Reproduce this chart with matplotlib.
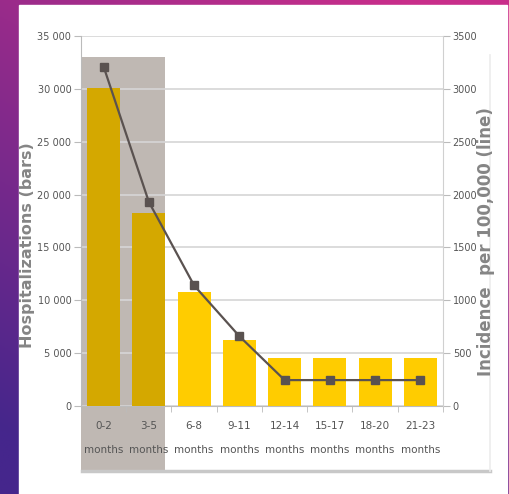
"""Hospitalizations (bars) and incidence per 100,000 (line) by age band."""

import numpy as np
import matplotlib

matplotlib.use("Agg")
import matplotlib.pyplot as plt  # noqa: E402
from matplotlib.patches import Rectangle  # noqa: E402
from matplotlib.lines import Line2D  # noqa: E402

age_bands = ["0-2", "3-5", "6-8", "9-11", "12-14", "15-17", "18-20", "21-23"]
hospitalizations = [30100, 18300, 10800, 6200, 4500, 4500, 4500, 4500]
incidence = [3210, 1930, 1140, 660, 245, 245, 245, 245]
left_ticks = [0, 5000, 10000, 15000, 20000, 25000, 30000, 35000]
right_ticks = [0, 500, 1000, 1500, 2000, 2500, 3000, 3500]
highlighted = 2          # first two age bands sit on the grey band

W, H = 510, 494
fig = plt.figure(figsize=(W / 100, H / 100), dpi=100)

# purple backdrop
bg = fig.add_axes([0, 0, 1, 1], zorder=-10)
bg.set_axis_off()
yy, xx = np.mgrid[0:1:200j, 0:1:200j]
t = np.clip(0.75 * yy + 0.45 * xx - 0.1, 0, 1)
c0 = np.array([0x45, 0x26, 0x8c]) / 255
c1 = np.array([0xc8, 0x2e, 0x8a]) / 255
grad = c0[None, None, :] * (1 - t[..., None]) + c1[None, None, :] * t[..., None]
bg.imshow(grad, extent=[0, 1, 0, 1], origin="lower", aspect="auto")
bg.set_xlim(0, 1)
bg.set_ylim(0, 1)
bg.add_patch(Rectangle((19 / W, 0), 488 / W, 1 - 5 / H, color="white"))

# frame shadow round the chart
fig.add_artist(Line2D([82 / W, 490 / W], [1 - 471 / H] * 2, color="#c8c8c8", lw=2.5))
fig.add_artist(Line2D([490 / W] * 2, [1 - 471 / H, 1 - 55 / H], color="#ececec", lw=1.2))

ax = fig.add_axes([81 / W, 1 - 406 / H, 362 / W, 370 / H])
x = np.arange(len(age_bands))
colors = ["#d4a800" if i < highlighted else "#ffcc00" for i in x]
ax.bar(x, hospitalizations, width=0.73, color=colors, zorder=3)
ax.set_xlim(-0.5, len(age_bands) - 0.5)
ax.set_ylim(0, 35000)
ax.set_yticks(left_ticks)
ax.set_yticklabels([f"{v:,}".replace(",", " ") for v in left_ticks])
ax.yaxis.grid(True, color="#d6d6d6", lw=1.2)
ax.set_axisbelow(True)

ax.set_xticks(x)
ax.set_xticklabels([f"{b}\nmonths" for b in age_bands], linespacing=2.7)
ax.set_xticks(np.arange(len(age_bands) + 1) - 0.5, minor=True)
ax.tick_params(axis="x", which="major", length=0, pad=11, labelsize=7.5,
               labelcolor="#555555")
ax.tick_params(axis="x", which="minor", length=4, color="#bbbbbb")
ax.tick_params(axis="y", length=5, color="#bbbbbb", labelsize=7,
               labelcolor="#555555", pad=2)
for side in ("left", "bottom"):
    ax.spines[side].set_color("#bbbbbb")
ax.spines["top"].set_visible(False)
ax.spines["right"].set_visible(False)

# grey band behind the first age bands, reaching down over their labels
tr = ax.get_xaxis_transform()
ax.add_patch(Rectangle((-0.5, -0.173), highlighted - 1 + 0.865, 0.943 + 0.173,
                       transform=tr, facecolor="#bfb8b3", edgecolor="none",
                       clip_on=False, zorder=0.2))

ax2 = ax.twinx()
ax2.plot(x, incidence, color="#5a5250", lw=1.6, marker="s", ms=6,
         markerfacecolor="#5a5250", markeredgecolor="#5a5250", zorder=5)
ax2.set_ylim(0, 3500)
ax2.set_yticks(right_ticks)
ax2.set_yticklabels([str(v) for v in right_ticks])
ax2.tick_params(axis="y", length=5, color="#bbbbbb", labelsize=7,
                labelcolor="#555555", pad=2)
for side in ("left", "bottom", "top"):
    ax2.spines[side].set_visible(False)
ax2.spines["right"].set_color("#d0d0d0")

fig.text(28 / W, 1 - 245 / H, "Hospitalizations (bars)", rotation=90,
         ha="center", va="center", fontsize=11.5, fontweight="bold", color="#858585")
fig.text(486 / W, 1 - 242 / H, "Incidence  per 100,000 (line)", rotation=90,
         ha="center", va="center", fontsize=12, fontweight="bold", color="#858585")

fig.savefig("out.png", dpi=100)
